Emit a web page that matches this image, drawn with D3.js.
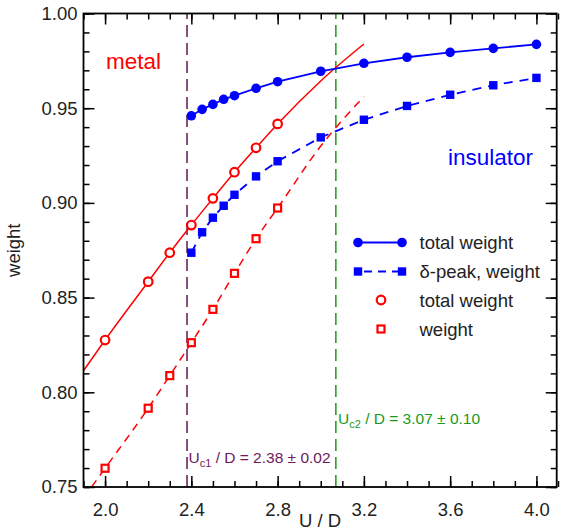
<!DOCTYPE html>
<html><head><meta charset="utf-8">
<script src="https://cdn.jsdelivr.net/npm/d3@7"></script>
<style>body{margin:0;background:#fff}svg{display:block}text{font-family:"Liberation Sans",Arial,Helvetica,sans-serif}</style>
</head><body><div id="chart"></div>
<script>
// ---- data ----
const insX = [2.4, 2.45, 2.5, 2.55, 2.6, 2.7, 2.8, 3.0, 3.2, 3.4, 3.6, 3.8, 4.0];
const insTotal = [0.946, 0.9494, 0.952, 0.9547, 0.9566, 0.9605, 0.964, 0.9695, 0.9737, 0.9769, 0.9795, 0.9816, 0.9837];
const insDelta = [0.8737, 0.8845, 0.8922, 0.8985, 0.9043, 0.914, 0.922, 0.9346, 0.9439, 0.9512, 0.9571, 0.9621, 0.966];
const metX = [2.0, 2.2, 2.3, 2.4, 2.5, 2.6, 2.7, 2.8];
const metTotal = [0.8276, 0.8584, 0.8737, 0.8883, 0.9024, 0.9162, 0.9291, 0.9417];
const metWeight = [0.7599, 0.7916, 0.8088, 0.8262, 0.8438, 0.8628, 0.8811, 0.8973];
const fitTotalX = [1.9, 2.0, 2.2, 2.3, 2.4, 2.5, 2.6, 2.7, 2.8, 3.0, 3.2];
const fitTotalY = [0.8114, 0.8276, 0.8584, 0.8737, 0.8883, 0.9024, 0.9162, 0.9291, 0.9417, 0.9644, 0.9839];
const fitWeightX = [1.9, 2.0, 2.2, 2.3, 2.4, 2.5, 2.6, 2.7, 2.8, 3.0, 3.2];
const fitWeightY = [0.7441, 0.7599, 0.7916, 0.8088, 0.8262, 0.8438, 0.8628, 0.8811, 0.8973, 0.9300, 0.9561];
const xTicks = [2.0, 2.4, 2.8, 3.2, 3.6, 4.0];
const yTicks = [0.75, 0.80, 0.85, 0.90, 0.95, 1.00];
const uc1 = 2.38, uc2 = 3.07;
const legendLabels = ["total weight", "\u03b4-peak, weight", "total weight", "weight"];

// ---- layout ----
const W = 562, H = 531;
const x = d3.scaleLinear().domain([1.9, 4.1]).range([83.5, 558]);
const y = d3.scaleLinear().domain([0.75, 1.0]).range([487, 13.5]);
const X0 = x.range()[0], X1 = 556.7, Y0 = y.range()[0], Y1 = y.range()[1];

const svg = d3.select("#chart").append("svg").attr("width", W).attr("height", H);
svg.append("defs").append("clipPath").attr("id", "clip")
  .append("rect").attr("x", X0).attr("y", Y1).attr("width", X1 - X0).attr("height", Y0 - Y1);

const BLUE = "#0000ff", RED = "#ff0000", PURP = "#5e1650", GREEN = "#1a9a1a";

// vertical critical lines
svg.append("line").attr("x1", x(uc1)).attr("x2", x(uc1)).attr("y1", Y0).attr("y2", Y1)
  .attr("stroke", PURP).attr("stroke-width", 1.5).attr("stroke-dasharray", "12,6");
svg.append("line").attr("x1", x(uc2)).attr("x2", x(uc2)).attr("y1", Y0).attr("y2", Y1)
  .attr("stroke", GREEN).attr("stroke-width", 1.5).attr("stroke-dasharray", "12,6");

const g = svg.append("g").attr("clip-path", "url(#clip)");
const line = d3.line().x(d => x(d[0])).y(d => y(d[1]));
const lineC = d3.line().x(d => x(d[0])).y(d => y(d[1])).curve(d3.curveMonotoneX);

g.append("path").attr("d", lineC(fitTotalX.map((v, i) => [v, fitTotalY[i]])))
  .attr("fill", "none").attr("stroke", RED).attr("stroke-width", 1.5);
g.append("path").attr("d", lineC(fitWeightX.map((v, i) => [v, fitWeightY[i]])))
  .attr("fill", "none").attr("stroke", RED).attr("stroke-width", 1.5).attr("stroke-dasharray", "8,6");
g.append("path").attr("d", line(insX.map((v, i) => [v, insTotal[i]])))
  .attr("fill", "none").attr("stroke", BLUE).attr("stroke-width", 1.8);
g.append("path").attr("d", line(insX.map((v, i) => [v, insDelta[i]])))
  .attr("fill", "none").attr("stroke", BLUE).attr("stroke-width", 1.8).attr("stroke-dasharray", "9,7");

// markers
g.selectAll(".bc").data(insX.map((v, i) => [v, insTotal[i]])).enter().append("circle")
  .attr("cx", d => x(d[0])).attr("cy", d => y(d[1])).attr("r", 4.8).attr("fill", BLUE);
g.selectAll(".bs").data(insX.map((v, i) => [v, insDelta[i]])).enter().append("rect")
  .attr("x", d => x(d[0]) - 4.2).attr("y", d => y(d[1]) - 4.2).attr("width", 8.4).attr("height", 8.4).attr("fill", BLUE);
g.selectAll(".rc").data(metX.map((v, i) => [v, metTotal[i]])).enter().append("circle")
  .attr("cx", d => x(d[0])).attr("cy", d => y(d[1])).attr("r", 4.3)
  .attr("fill", "#fff").attr("stroke", RED).attr("stroke-width", 2.2);
g.selectAll(".rs").data(metX.map((v, i) => [v, metWeight[i]])).enter().append("rect")
  .attr("x", d => x(d[0]) - 3.5).attr("y", d => y(d[1]) - 3.5).attr("width", 7).attr("height", 7)
  .attr("fill", "#fff").attr("stroke", RED).attr("stroke-width", 2.2);

// axes (ticks inward, mirrored)
const minorX = d3.range(19, 42).map(v => v / 10);
const minorY = d3.range(75, 101).map(v => v / 100);
function addAxis(axis, tr) {
  const a = svg.append("g").attr("transform", tr).call(axis);
  a.select(".domain").remove();
  a.selectAll("line").attr("stroke", "#000").attr("stroke-width", 1.5);
  return a;
}
const fs = "18.5px";
let ax;
ax = addAxis(d3.axisBottom(x).tickValues(minorX).tickSize(-6).tickFormat(""), `translate(0,${Y0})`);
ax = addAxis(d3.axisBottom(x).tickValues(xTicks).tickSize(-11).tickPadding(16).tickFormat(d3.format(".1f")), `translate(0,${Y0})`);
ax.selectAll("text").attr("font-size", fs).attr("fill", "#222");
addAxis(d3.axisTop(x).tickValues(minorX).tickSize(-6).tickFormat(""), `translate(0,${Y1})`);
addAxis(d3.axisTop(x).tickValues(xTicks).tickSize(-11).tickFormat(""), `translate(0,${Y1})`);
addAxis(d3.axisLeft(y).tickValues(minorY).tickSize(-6).tickFormat(""), `translate(${X0},0)`);
ax = addAxis(d3.axisLeft(y).tickValues(yTicks).tickSize(-11).tickPadding(6).tickFormat(d3.format(".2f")), `translate(${X0},0)`);
ax.selectAll("text").attr("font-size", fs).attr("fill", "#222");
addAxis(d3.axisRight(y).tickValues(minorY).tickSize(-6).tickFormat(""), `translate(${X1},0)`);
addAxis(d3.axisRight(y).tickValues(yTicks).tickSize(-11).tickFormat(""), `translate(${X1},0)`);
svg.append("rect").attr("x", X0).attr("y", Y1).attr("width", X1 - X0).attr("height", Y0 - Y1)
  .attr("fill", "none").attr("stroke", "#000").attr("stroke-width", 1.8);

// axis titles
svg.append("text").attr("x", (X0 + X1) / 2).attr("y", 526.5).attr("text-anchor", "middle")
  .attr("font-size", "18.5px").attr("fill", "#222").text("U / D");
svg.append("text").attr("transform", `translate(20,${(Y0 + Y1) / 2}) rotate(-90)`).attr("text-anchor", "middle")
  .attr("font-size", "18.5px").attr("fill", "#222").text("weight");

// annotations
svg.append("text").attr("x", 106).attr("y", 69).attr("font-size", "22.5px").attr("fill", RED).text("metal");
svg.append("text").attr("x", 448).attr("y", 165).attr("font-size", "22.5px").attr("fill", BLUE).text("insulator");

function ucLabel(xp, yp, sub, rest, col) {
  const t = svg.append("text").attr("x", xp).attr("y", yp).attr("font-size", "15.5px").attr("fill", col);
  t.append("tspan").text("U");
  t.append("tspan").attr("font-size", "11px").attr("dy", 4).text(sub);
  t.append("tspan").attr("dy", -4).text(rest);
}
ucLabel(188.5, 462.5, "c1", " / D = 2.38 \u00b1 0.02", "#6e1a5e");
ucLabel(338, 424, "c2", " / D = 3.07 \u00b1 0.10", GREEN);

// legend
const lg = svg.append("g");
const ly = [242.5, 271.5, 300, 329];
lg.append("line").attr("x1", 358).attr("x2", 402).attr("y1", ly[0]).attr("y2", ly[0]).attr("stroke", BLUE).attr("stroke-width", 1.8);
[358, 402].forEach(px => lg.append("circle").attr("cx", px).attr("cy", ly[0]).attr("r", 4.8).attr("fill", BLUE));
lg.append("line").attr("x1", 358).attr("x2", 402).attr("y1", ly[1]).attr("y2", ly[1]).attr("stroke", BLUE).attr("stroke-width", 1.8).attr("stroke-dasharray", "8,6").attr("stroke-dashoffset", -6);
[358, 402].forEach(px => lg.append("rect").attr("x", px - 4.2).attr("y", ly[1] - 4.2).attr("width", 8.4).attr("height", 8.4).attr("fill", BLUE));
lg.append("circle").attr("cx", 381).attr("cy", ly[2]).attr("r", 4.3).attr("fill", "#fff").attr("stroke", RED).attr("stroke-width", 2.2);
lg.append("rect").attr("x", 381 - 3.5).attr("y", ly[3] - 3.5).attr("width", 7).attr("height", 7).attr("fill", "#fff").attr("stroke", RED).attr("stroke-width", 2.2);
legendLabels.forEach((s, i) => lg.append("text").attr("x", 419.5).attr("y", ly[i] + 6.5)
  .attr("font-size", "18.5px").attr("fill", "#222").text(s));
</script></body></html>
